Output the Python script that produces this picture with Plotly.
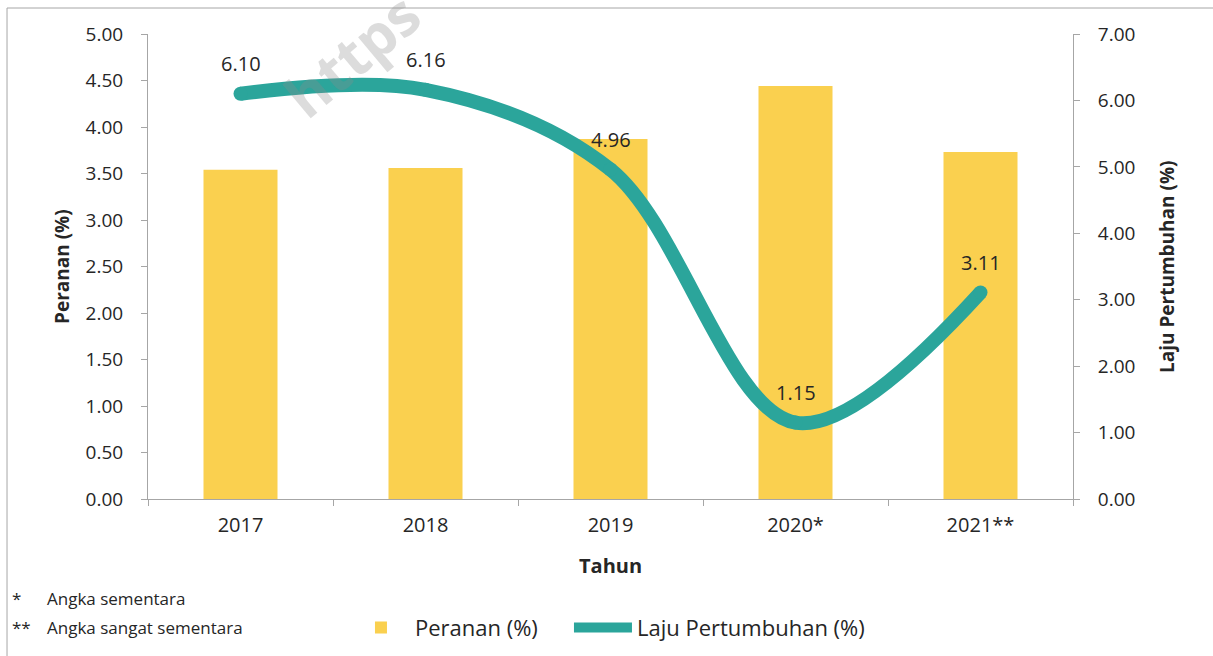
import plotly.graph_objects as go

years = ["2017", "2018", "2019", "2020*", "2021**"]
peranan = [3.54, 3.56, 3.87, 4.44, 3.73]
laju = [6.10, 6.16, 4.96, 1.15, 3.11]
laju_labels = ["6.10", "6.16", "4.96", "1.15", "3.11"]
left_ticks = [0, 0.5, 1, 1.5, 2, 2.5, 3, 3.5, 4, 4.5, 5]
right_ticks = [0, 1, 2, 3, 4, 5, 6, 7]

BAR = "#FAD04F"
LINE = "#2BA59B"
AX = "#A6A6A6"
TXT = "#262626"
FONT = "Open Sans, DejaVu Sans, sans-serif"

fig = go.Figure()
fig.add_trace(go.Bar(x=years, y=peranan, name="Peranan (%)", marker_color=BAR,
                     marker_line_width=0, yaxis="y", legend="legend"))
fig.add_trace(go.Scatter(x=years, y=laju, name="Laju Pertumbuhan (%)", yaxis="y2",
                         mode="lines", legend="legend2",
                         line=dict(color=LINE, width=14, shape="spline", smoothing=1.0)))
# round line ends
fig.add_trace(go.Scatter(x=years, y=laju, yaxis="y2", mode="markers", showlegend=False,
                         hoverinfo="skip", marker=dict(color=LINE, size=14)))

ann = []
for i, (yv, t) in enumerate(zip(laju, laju_labels)):
    ann.append(dict(x=i, y=yv, xref="x", yref="y2", text=t, showarrow=False,
                    xanchor="center", yanchor="middle",
                    yshift=30, font=dict(family=FONT, size=20, color=TXT)))

def pann(x, y, text, size, angle=0, xanchor="center", color=TXT):
    return dict(x=x, y=y, xref="paper", yref="paper", text=text, textangle=angle,
                showarrow=False, xanchor=xanchor, yanchor="middle",
                font=dict(family=FONT, size=size, color=color))

# axis titles
ann.append(pann(-0.093, 0.501, "<b>Peranan (%)</b>", 19, -90))
ann.append(pann(1.1016, 0.501, "<b>Laju Pertumbuhan (%)</b>", 19, -90))
ann.append(pann(0.4995, -0.142, "<b>Tahun</b>", 20))

# footnotes
for yy, star, note in [(-0.215, "*", "Angka sementara"), (-0.277, "**", "Angka sangat sementara")]:
    ann.append(pann(-0.1492, yy, star, 17, xanchor="left"))
    ann.append(pann(-0.1112, yy, note, 17, xanchor="left"))

# watermark
ann.append(pann(0.2205, 0.955, "<b>https</b>", 58, -40, color="rgba(140,140,140,0.3)"))

shapes = [
    dict(type="line", xref="paper", yref="paper", x0=-0.1524, x1=1.3, y0=1.0559, y1=1.0559,
         line=dict(color=AX, width=1)),
    dict(type="line", xref="paper", yref="paper", x0=-0.1524, x1=-0.1524, y0=1.0559, y1=-0.5,
         line=dict(color=AX, width=1)),
]

leg_common = dict(orientation="h", yanchor="middle", xanchor="left", y=-0.277,
                  font=dict(family=FONT, size=22, color=TXT), itemwidth=58,
                  bgcolor="rgba(0,0,0,0)")

fig.update_layout(
    width=1213, height=656,
    margin=dict(l=148, r=140, t=34, b=157, autoexpand=False),
    paper_bgcolor="white", plot_bgcolor="white",
    bargap=0.6,
    font=dict(family=FONT, size=20, color=TXT),
    showlegend=True,
    legend=dict(x=0.2151, **leg_common),
    legend2=dict(x=0.4551, **leg_common),
    xaxis=dict(type="category", range=[-0.5, 4.5], showline=True, linecolor=AX, linewidth=1,
               ticks="outside", ticklen=6, tickcolor=AX, tickson="boundaries",
               tickfont=dict(family=FONT, size=20, color=TXT), ticklabelstandoff=8,
               tickangle=0, showgrid=False, zeroline=False),
    yaxis=dict(range=[0, 5], tickvals=left_ticks, tickformat=".2f", showline=True,
               linecolor=AX, ticks="outside", ticklen=6, tickcolor=AX,
               tickfont=dict(family=FONT, size=19, color=TXT), ticklabelstandoff=14,
               showgrid=False, zeroline=False),
    yaxis2=dict(range=[0, 7], tickvals=right_ticks, tickformat=".2f", overlaying="y",
                side="right", showline=True, linecolor=AX, ticks="outside", ticklen=6,
                tickcolor=AX, tickfont=dict(family=FONT, size=19, color=TXT),
                ticklabelstandoff=14, showgrid=False, zeroline=False),
    annotations=ann,
    shapes=shapes,
)

fig.write_html("out.html", config={"displayModeBar": False},
               post_script="document.body.style.margin='0';")
